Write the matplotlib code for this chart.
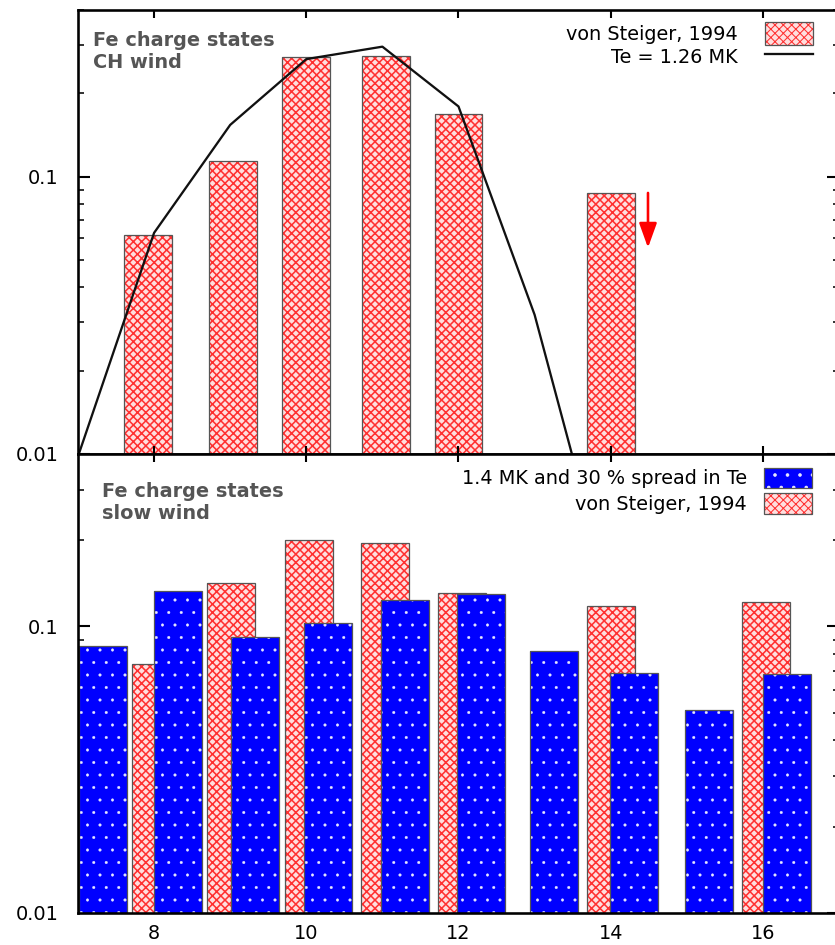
import matplotlib.pyplot as plt
from matplotlib.ticker import LogLocator, NullFormatter

plt.rcParams['font.family'] = ['DejaVu Sans']

# --- top panel: coronal hole wind ---
ch_states = [7.92, 9.04, 10.0, 11.05, 12.0, 14.0]
ch_obs = [0.0618, 0.114, 0.271, 0.273, 0.169, 0.0875]
ch_model_q = [7, 8, 9, 10, 11, 12, 13, 14]
ch_model = [0.0098, 0.0628, 0.154, 0.266, 0.295, 0.1795, 0.0318, 0.003]
limit_q = 14.49
limit_from, limit_to = 0.0875, 0.0555

# --- bottom panel: slow wind ---
slow_states = [8.03, 9.01, 10.03, 11.03, 12.05, 14.0, 16.04]
slow_obs = [0.074, 0.142, 0.200, 0.196, 0.131, 0.1175, 0.1213]
model_states = [7.33, 8.32, 9.32, 10.28, 11.30, 12.30, 13.25, 14.31, 15.29, 16.32]
slow_model = [0.0854, 0.133, 0.0918, 0.1027, 0.1238, 0.130, 0.0824, 0.069, 0.0512, 0.0684]

xticks = [8, 10, 12, 14, 16]
yticks = [0.01, 0.1]
ytick_labels = ['0.01', '0.1']

FS = 18.5
BAR_W = 0.63
EDGE = '#555555'


def hatched_bars(ax, x, y, face, hatch, hcolor, hlw, z):
    # hatch linewidth is picked up when the patches are created
    with plt.rc_context({'hatch.linewidth': hlw}):
        fill = ax.bar(x, y, width=BAR_W, color=face, edgecolor=hcolor,
                      linewidth=0, hatch=hatch, zorder=z)
    edge = ax.bar(x, y, width=BAR_W, fill=False, edgecolor=EDGE,
                  linewidth=1.2, zorder=z)
    return (fill.patches[0], edge.patches[0])


def red_bars(ax, x, y, z):
    return hatched_bars(ax, x, y, '#ffdede', 'xxx', '#ff3030', 1.5, z)


def blue_bars(ax, x, y, z):
    return hatched_bars(ax, x, y, '#0000ff', '.', '#e8e8ff', 0.4, z)


def style_axes(ax, bottom_labels):
    ax.set_yscale('log')
    ax.set_xlim(7, 17)
    ax.set_ylim(0.01, 0.4)
    ax.set_xticks(xticks)
    ax.set_yticks(yticks)
    ax.set_yticklabels(ytick_labels)
    ax.yaxis.set_minor_locator(LogLocator(subs=range(2, 10)))
    ax.yaxis.set_minor_formatter(NullFormatter())
    ax.tick_params(axis='y', which='major', direction='in', length=11.5,
                   width=2, left=True, right=True, labelsize=FS, pad=19)
    ax.tick_params(axis='y', which='minor', direction='in', length=6,
                   width=1.5, left=True, right=True)
    ax.tick_params(axis='x', which='major', direction='in', length=8,
                   width=2, top=True, bottom=True, labelbottom=bottom_labels,
                   labelsize=FS, pad=11)
    ax.tick_params(axis='x', which='minor', bottom=False, top=False)
    for s in ax.spines.values():
        s.set_linewidth(2.5)
        s.set_zorder(5)


fig = plt.figure(figsize=(835 / 75, 945 / 75), dpi=75)
ax1 = fig.add_axes([0.0934, 0.5196, 0.9114, 0.4698])
ax2 = fig.add_axes([0.0934, 0.0339, 0.9114, 0.4857])

# top panel
red_h = red_bars(ax1, ch_states, ch_obs, 1.5)
line_h, = ax1.plot(ch_model_q, ch_model, color='#111111', lw=2.2, zorder=2)
ax1.annotate('', xy=(limit_q, limit_to), xytext=(limit_q, limit_from),
             arrowprops=dict(arrowstyle='-|>,head_length=0.5,head_width=0.18',
                             color='red', lw=2.5, mutation_scale=40,
                             shrinkA=0, shrinkB=0))
style_axes(ax1, False)
ax1.text(0.02, 0.952, 'Fe charge states\nCH wind', transform=ax1.transAxes,
         fontsize=FS, fontweight='bold', color='#555555', va='top', ha='left')
ax1.legend([red_h, line_h], ['von Steiger, 1994', 'Te = 1.26 MK'],
           loc='upper right', bbox_to_anchor=(0.966, 0.972), markerfirst=False,
           frameon=False, fontsize=FS, handlelength=2.5, handleheight=1.45,
           handletextpad=1.4, labelspacing=0.0, borderpad=0, borderaxespad=0)

# bottom panel
red_h2 = red_bars(ax2, slow_states, slow_obs, 3)
blue_h = blue_bars(ax2, model_states, slow_model, 3.2)
style_axes(ax2, True)
ax2.text(0.031, 0.94, 'Fe charge states\nslow wind', transform=ax2.transAxes,
         fontsize=FS, fontweight='bold', color='#555555', va='top', ha='left')
ax2.legend([blue_h, red_h2], ['1.4 MK and 30 % spread in Te', 'von Steiger, 1994'],
           loc='upper right', bbox_to_anchor=(0.965, 0.97), markerfirst=False,
           frameon=False, fontsize=FS, handlelength=2.5, handleheight=1.25,
           handletextpad=0.9, labelspacing=0.25, borderpad=0, borderaxespad=0)

fig.savefig('out.png', dpi=75)
